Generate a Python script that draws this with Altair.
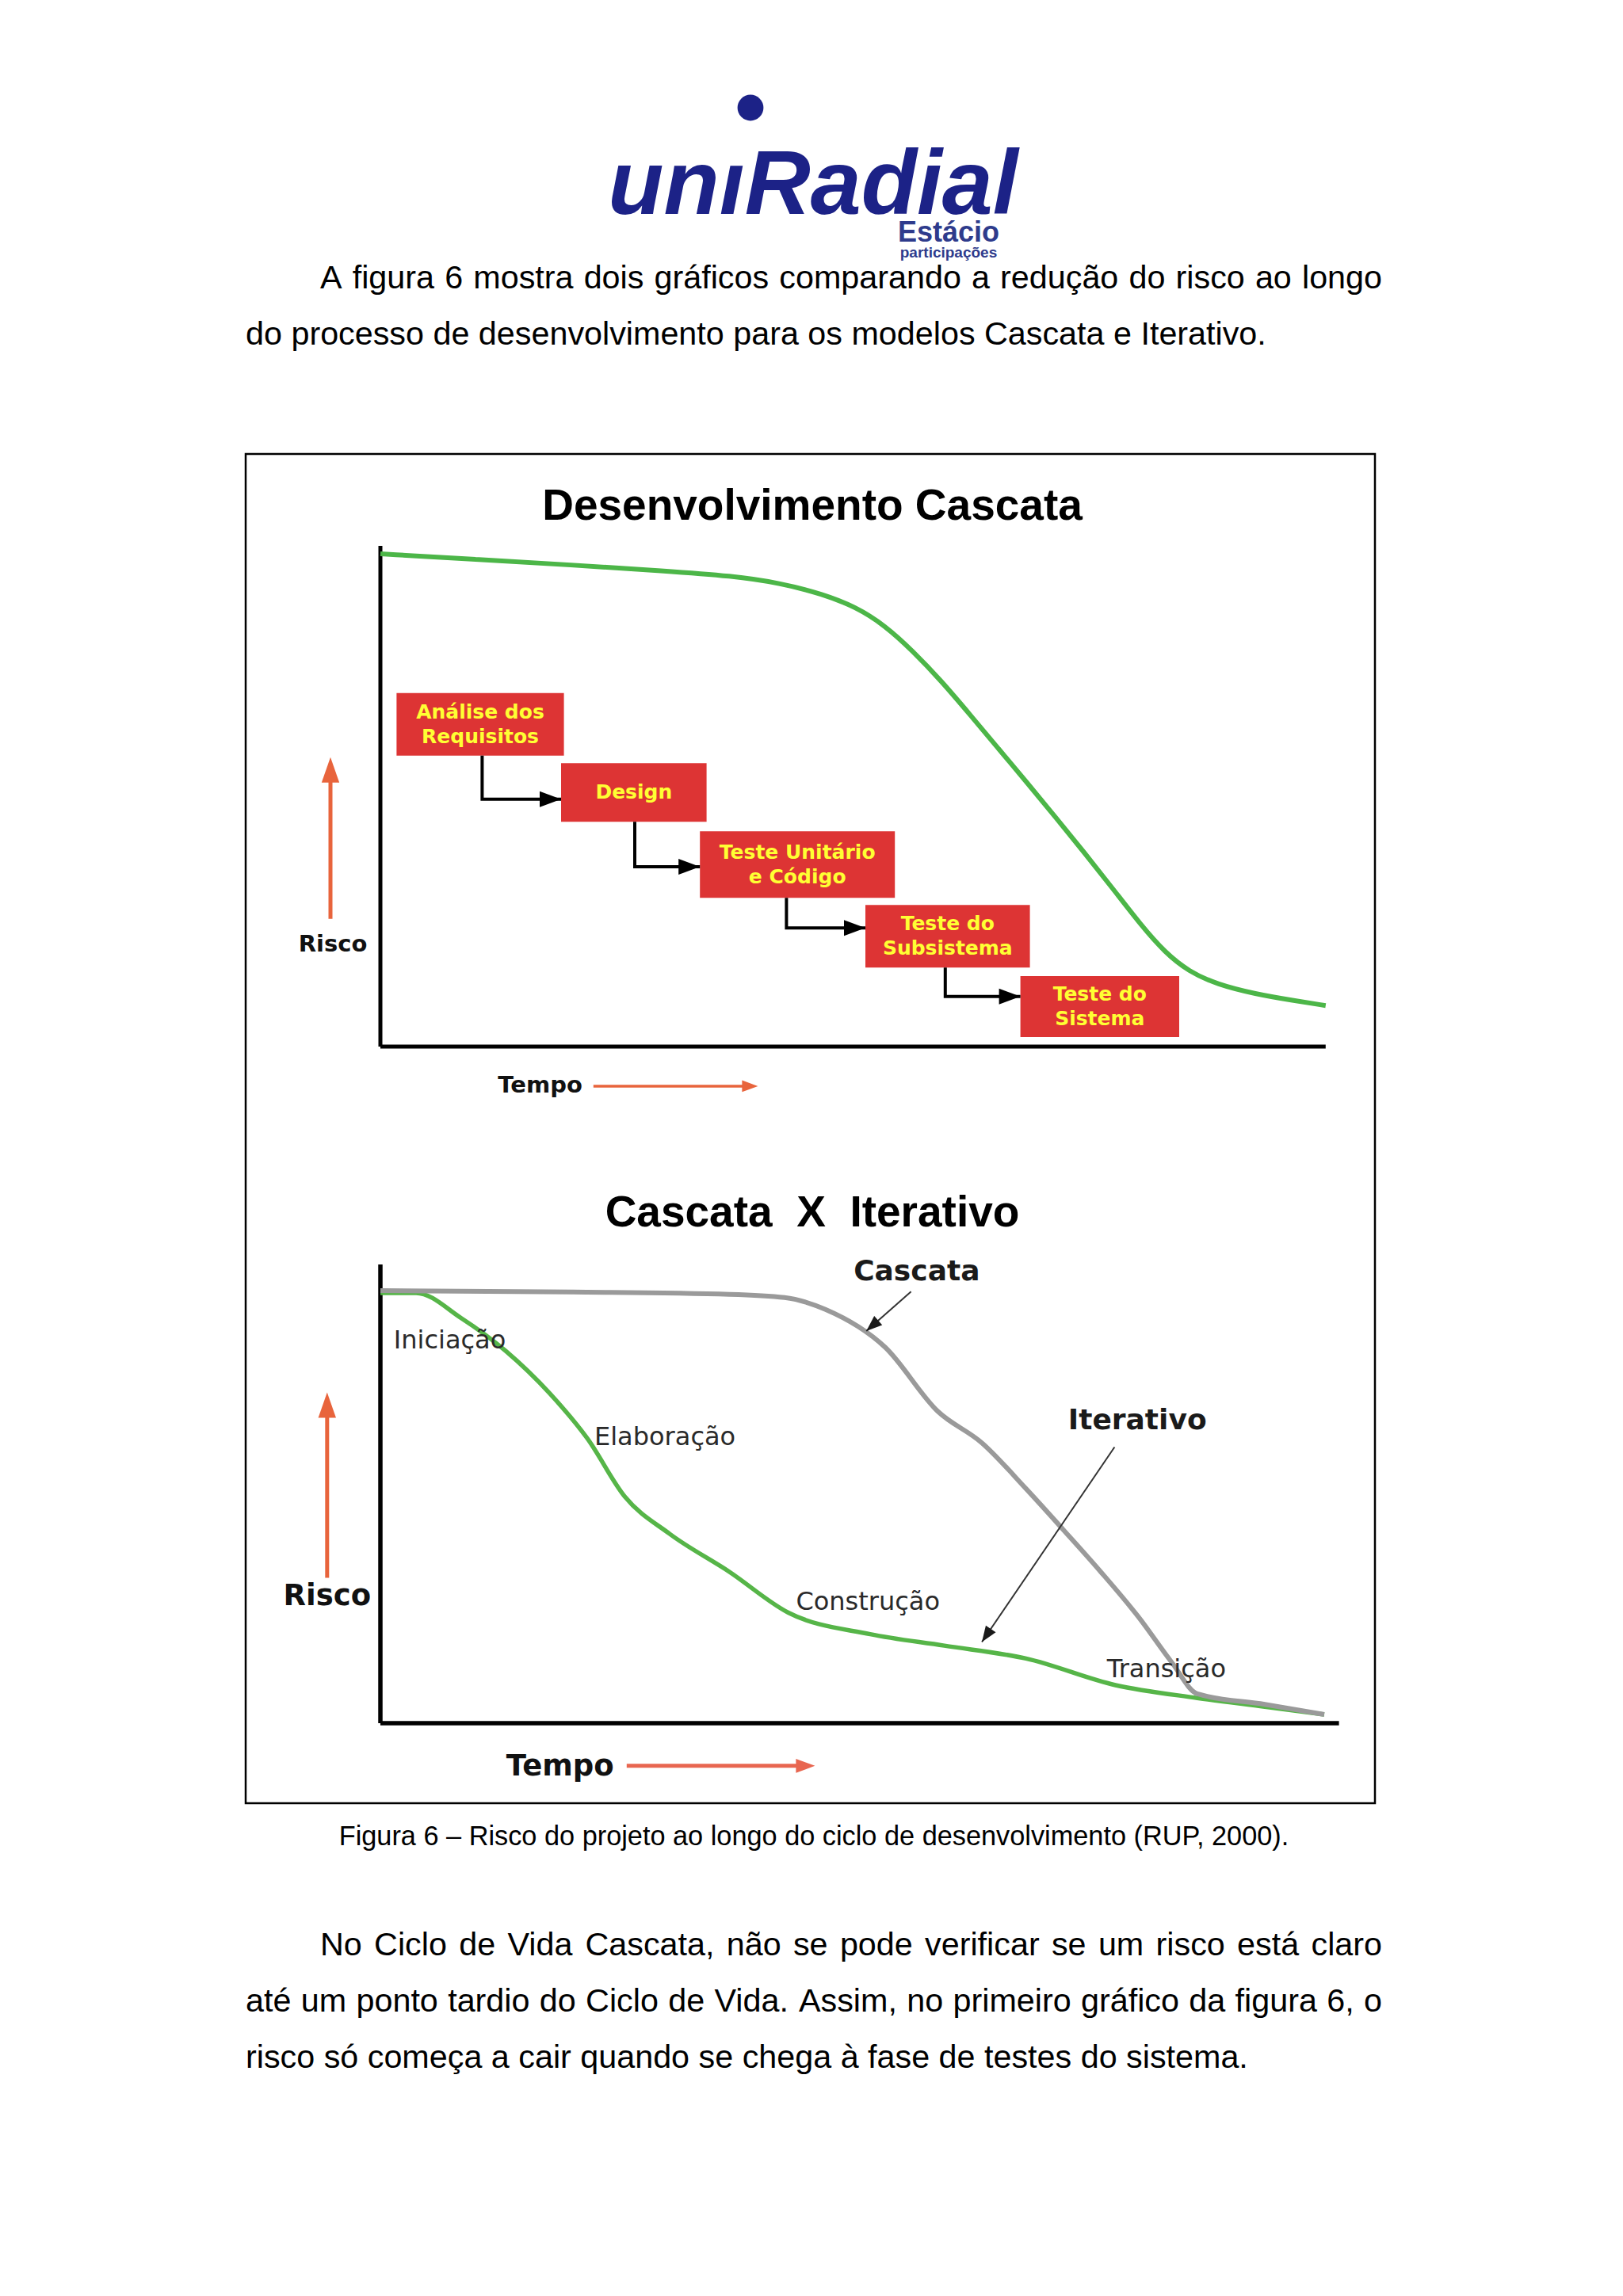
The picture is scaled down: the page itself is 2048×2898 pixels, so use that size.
import math
import altair as alt
import pandas as pd

# ---------------- data ----------------
# Chart 1 "Desenvolvimento Cascata": risco (0-100) ao longo do tempo (0-100)
c1_tempo = [0, 10, 20, 30, 37, 42, 46.5, 50, 53, 56, 59, 62, 65, 68, 71, 74, 77, 80,
            82.5, 85, 88, 92, 96, 99.4]
c1_risco = [98.4, 97.3, 96.2, 95.0, 94.0, 92.6, 90.4, 87.8, 84.2, 79.0, 73.0, 66.3, 59.5, 52.7,
            45.8, 38.8, 31.6, 24.2, 18.8, 15.0, 12.4, 10.5, 9.2, 8.2]

fases = ["Análise dos\nRequisitos", "Design", "Teste Unitário\ne Código",
         "Teste do\nSubsistema", "Teste do\nSistema"]
fase_ini = [1.7, 19.0, 33.6, 51.0, 67.3]
fase_fim = [19.3, 34.3, 54.1, 68.3, 84.0]
fase_topo = [70.6, 56.6, 43.0, 28.3, 14.1]
fase_base = [58.1, 44.9, 29.7, 15.8, 1.9]
ligacao_t = [10.7, 26.75, 42.7, 59.4]
ligacao_r = [49.4, 35.9, 23.7, 10.0]

# Chart 2 "Cascata X Iterativo"
cascata_t = [0, 20.25, 36.7, 42.5, 46.8, 53.1, 58.6, 63.25, 67.9, 71.8, 75.75, 79.7, 83.2, 85.9, 93.0, 99.25]
cascata_r = [94.3, 94.0, 93.5, 92.8, 90.2, 81.9, 68.0, 61.1, 51.1, 42.2, 33.0, 23.2, 13.3, 6.4, 4.1, 1.9]
iterativo_t = [0, 3.75, 8.5, 13.2, 17.8, 21.75, 25.7, 30.4, 36.7, 42.9, 51.5, 59.3, 67.9, 77.3, 85.9, 93.0, 99.25]
iterativo_r = [93.8, 93.8, 88.3, 81.1, 71.9, 62.1, 49.4, 41.3, 33.0, 24.1, 19.4, 16.9, 14.1, 8.3, 5.5, 3.6, 1.9]

fases2 = ["Iniciação", "Elaboração", "Construção", "Transição"]
fases2_t = [1.4, 22.5, 43.7, 76.4]
fases2_r = [83.5, 62.3, 26.5, 11.7]

chamadas = ["Cascata", "Iterativo"]
chamadas_t = [56.4, 79.6]
chamadas_r = [98.5, 65.9]
seta_t0 = [55.8, 77.2]
seta_r0 = [94.1, 60.2]
seta_t1 = [51.1, 63.25]
seta_r1 = [85.5, 17.7]

# page texts
par1 = ["A figura 6 mostra dois gráficos comparando a redução do risco ao longo",
        "do processo de desenvolvimento para os modelos Cascata e Iterativo."]
par2 = ["No Ciclo de Vida Cascata, não se pode verificar se um risco está claro",
        "até um ponto tardio do Ciclo de Vida. Assim, no primeiro gráfico da figura 6, o",
        "risco só começa a cair quando se chega à fase de testes do sistema."]
legenda = "Figura 6 – Risco do projeto ao longo do ciclo de desenvolvimento (RUP, 2000)."

# ---------------- layout (page pixels) ----------------
OFF = 8
W, H = 2048, 2898
def p(v):
    return v - OFF

T0_PX, T1_PX = 480, 1680
C1_BOT, C1_TOP = 1321, 689
C2_BOT, C2_TOP = 2175, 1596

SX = alt.Scale(domain=[0, 100], range=[p(T0_PX), p(T1_PX)], nice=False, zero=False)
SY1 = alt.Scale(domain=[0, 100], range=[p(C1_BOT), p(C1_TOP)], nice=False, zero=False)
SY2 = alt.Scale(domain=[0, 100], range=[p(C2_BOT), p(C2_TOP)], nice=False, zero=False)
PX = alt.Scale(domain=[0, W], range=[-OFF, W - OFF], nice=False, zero=False)
PY = alt.Scale(domain=[0, H], range=[-OFF, H - OFF], nice=False, zero=False)

KX = (T1_PX - T0_PX) / 100.0
KY1 = (C1_BOT - C1_TOP) / 100.0
KY2 = (C2_BOT - C2_TOP) / 100.0


def enc(sx, sy, xf="x", yf="y"):
    return dict(x=alt.X(f"{xf}:Q", scale=sx, axis=None),
                y=alt.Y(f"{yf}:Q", scale=sy, axis=None))


# Arial / Liberation Sans advance widths (1/1000 em) for justified body text
AW = {" ": 278, ",": 278, ".": 278, "-": 333, "(": 333, ")": 333, "–": 556,
      "a": 556, "b": 556, "c": 500, "d": 556, "e": 556, "f": 278, "g": 556, "h": 556,
      "i": 222, "j": 222, "k": 500, "l": 222, "m": 833, "n": 556, "o": 556, "p": 556,
      "q": 556, "r": 333, "s": 500, "t": 278, "u": 556, "v": 500, "w": 722, "x": 500,
      "y": 500, "z": 500, "A": 667, "C": 722, "I": 278, "N": 722, "V": 667,
      "á": 556, "à": 556, "ã": 556, "é": 556, "ç": 500, "ó": 556, "ú": 556, "í": 278}
BODY_SIZE = 41.3
LEFT, RIGHT, INDENT = 310, 1744, 404


def word_w(w):
    return sum(AW.get(ch, 556) for ch in w) / 1000.0 * BODY_SIZE


def lay_line(line, y, justify, indent):
    x0 = INDENT if indent else LEFT
    if not justify:
        return [{"x": x0, "y": y, "txt": line}]
    words = line.split(" ")
    ws = [word_w(w) for w in words]
    gap = (RIGHT - x0 - sum(ws)) / (len(words) - 1)
    out, x = [], x0
    for w, wd in zip(words, ws):
        out.append({"x": x, "y": y, "txt": w})
        x += wd + gap
    return out


GREEN1 = "#4cb648"
GREEN2 = "#56b548"
GRAY = "#9a9a9a"
RED = "#dd3434"
YELLOW = "#ffff33"
ORANGE = "#e8643c"
NAVY = "#1c2287"

UP_HEAD = "M0,0 L0.35,1 L-0.35,1 Z"
RIGHT_HEAD = "M0,0 L-1,-0.37 L-1,0.37 Z"
CALLOUT_HEAD = "M0,0 L0.38,1 L-0.38,1 Z"

layers = []

# figure border
border = pd.DataFrame({"x": [310], "y": [573], "x2": [1735], "y2": [2276]})
layers.append(alt.Chart(border).mark_rect(fillOpacity=0, stroke="black", strokeWidth=2.5)
              .encode(**enc(PX, PY), x2="x2:Q", y2="y2:Q"))

# logo
logo = pd.DataFrame({"x": [1026], "y": [270], "txt": ["unıRadial"]})
layers.append(alt.Chart(logo).mark_text(font="Liberation Sans", fontSize=115,
                                         fontWeight="bold", fontStyle="italic", color=NAVY,
                                         align="center", baseline="alphabetic")
              .encode(**enc(PX, PY), text="txt:N"))
dot = pd.DataFrame({"x": [947], "y": [136]})
layers.append(alt.Chart(dot).mark_point(shape="circle", filled=True, size=1075, color=NAVY, opacity=1)
              .encode(**enc(PX, PY)))
est = pd.DataFrame({"x": [1197, 1197], "y": [294, 319], "txt": ["Estácio", "participações"],
                    "s": ["a", "b"]})
layers.append(alt.Chart(est[est.s == "a"]).mark_text(font="Liberation Sans", fontSize=36, fontWeight="bold",
                                                      color="#2e3b8c", align="center", baseline="middle")
              .encode(**enc(PX, PY), text="txt:N"))
layers.append(alt.Chart(est[est.s == "b"]).mark_text(font="Liberation Sans", fontSize=19, fontWeight="bold",
                                                      color="#2e3b8c", align="center", baseline="middle")
              .encode(**enc(PX, PY), text="txt:N"))

# body text (justified like the document)
rows = []
rows += lay_line(par1[0], 352, True, True)
rows += lay_line(par1[1], 423, False, False)
rows += lay_line(par2[0], 2456, True, True)
rows += lay_line(par2[1], 2527, True, False)
rows += lay_line(par2[2], 2598, False, False)
body = pd.DataFrame(rows)
layers.append(alt.Chart(body).mark_text(font="Liberation Sans", fontSize=BODY_SIZE, color="black",
                                         align="left", baseline="middle")
              .encode(**enc(PX, PY), text="txt:N"))
cap = pd.DataFrame({"x": [1027], "y": [2319], "txt": [legenda]})
layers.append(alt.Chart(cap).mark_text(font="Liberation Sans", fontSize=34.3, color="black",
                                        align="center", baseline="middle")
              .encode(**enc(PX, PY), text="txt:N"))

# titles
titles = pd.DataFrame({"x": [1025, 1025], "y": [639, 1531],
                       "txt": ["Desenvolvimento Cascata",
                               "Cascata\u00a0\u00a0X\u00a0\u00a0Iterativo"]})
layers.append(alt.Chart(titles).mark_text(font="Liberation Sans", fontSize=55, fontWeight="bold",
                                           color="black", align="center", baseline="middle")
              .encode(**enc(PX, PY), text="txt:N"))

# ---------------- chart 1 ----------------
ax1 = pd.DataFrame({"x": [0, 0], "y": [0, 0], "x2": [0, 99.4], "y2": [100, 0]})
layers.append(alt.Chart(ax1).mark_rule(color="black", strokeWidth=5)
              .encode(**enc(SX, SY1), x2="x2:Q", y2="y2:Q"))

curve1 = pd.DataFrame({"x": c1_tempo, "y": c1_risco})
layers.append(alt.Chart(curve1).mark_line(color=GREEN1, strokeWidth=6, interpolate="basis")
              .encode(**enc(SX, SY1)))

LINE_H = 31
boxes = pd.DataFrame({"x": fase_ini, "x2": fase_fim, "y": fase_topo, "y2": fase_base, "txt": fases})
boxes["xc"] = (boxes.x + boxes.x2) / 2
nl = boxes.txt.str.count("\n")
boxes["yc"] = (boxes.y + boxes.y2) / 2 + nl * (LINE_H / 2.0) / KY1
layers.append(alt.Chart(boxes).mark_rect(color=RED)
              .encode(**enc(SX, SY1), x2="x2:Q", y2="y2:Q"))
layers.append(alt.Chart(boxes).mark_text(font="DejaVu Sans", fontSize=25, fontWeight="bold", color=YELLOW,
                                          align="center", baseline="middle", lineBreak="\n", lineHeight=LINE_H)
              .encode(**enc(SX, SY1, "xc", "yc"), text="txt:N"))

rows, heads = [], []
for i in range(len(ligacao_t)):
    pts = [(ligacao_t[i], fase_base[i]), (ligacao_t[i], ligacao_r[i]), (fase_ini[i + 1], ligacao_r[i])]
    for k, (a, b) in enumerate(pts):
        rows.append({"x": a, "y": b, "id": i, "k": k})
    heads.append({"x": fase_ini[i + 1], "y": ligacao_r[i]})
conn = pd.DataFrame(rows)
layers.append(alt.Chart(conn).mark_line(color="black", strokeWidth=4, strokeJoin="miter")
              .encode(**enc(SX, SY1), detail="id:N", order="k:Q"))
layers.append(alt.Chart(pd.DataFrame(heads)).mark_point(shape=RIGHT_HEAD, filled=True, size=2916,
                                                         color="black", opacity=1, strokeWidth=0)
              .encode(**enc(SX, SY1)))

# risco / tempo arrows chart 1
r1 = pd.DataFrame({"x": [-5.25], "y": [25.5], "y2": [55.0]})
layers.append(alt.Chart(r1).mark_rule(color=ORANGE, strokeWidth=5).encode(**enc(SX, SY1), y2="y2:Q"))
layers.append(alt.Chart(pd.DataFrame({"x": [-5.25], "y": [57.8]})).mark_point(
    shape=UP_HEAD, filled=True, size=4096, color=ORANGE, opacity=1, strokeWidth=0).encode(**enc(SX, SY1)))
t1 = pd.DataFrame({"x": [22.4], "x2": [38.5], "y": [-7.9]})
layers.append(alt.Chart(t1).mark_rule(color=ORANGE, strokeWidth=3.5).encode(**enc(SX, SY1), x2="x2:Q"))
layers.append(alt.Chart(pd.DataFrame({"x": [39.7], "y": [-7.9]})).mark_point(
    shape=RIGHT_HEAD, filled=True, size=1600, color=ORANGE, opacity=1, strokeWidth=0).encode(**enc(SX, SY1)))
lab1 = pd.DataFrame({"x": [-5.0, 16.8], "y": [20.4, -7.8], "txt": ["Risco", "Tempo"]})
layers.append(alt.Chart(lab1).mark_text(font="DejaVu Sans", fontSize=29, fontWeight="bold", color="#111111",
                                         align="center", baseline="middle")
              .encode(**enc(SX, SY1), text="txt:N"))

# ---------------- chart 2 ----------------
ax2 = pd.DataFrame({"x": [0, 0], "y": [0, 0], "x2": [0, 100.8], "y2": [100, 0]})
layers.append(alt.Chart(ax2).mark_rule(color="black", strokeWidth=5.5)
              .encode(**enc(SX, SY2), x2="x2:Q", y2="y2:Q"))

it = pd.DataFrame({"x": iterativo_t, "y": iterativo_r})
layers.append(alt.Chart(it).mark_line(color=GREEN2, strokeWidth=5.5, interpolate="monotone")
              .encode(**enc(SX, SY2)))
ca = pd.DataFrame({"x": cascata_t, "y": cascata_r})
layers.append(alt.Chart(ca).mark_line(color=GRAY, strokeWidth=6, interpolate="monotone")
              .encode(**enc(SX, SY2)))

lab2 = pd.DataFrame({"x": fases2_t, "y": fases2_r, "txt": fases2})
layers.append(alt.Chart(lab2).mark_text(font="DejaVu Sans", fontSize=32, color="#2a2a2a",
                                         align="left", baseline="middle")
              .encode(**enc(SX, SY2), text="txt:N"))

ch = pd.DataFrame({"x": chamadas_t, "y": chamadas_r, "txt": chamadas})
layers.append(alt.Chart(ch).mark_text(font="DejaVu Sans", fontSize=36, fontWeight="bold", color="#1a1a1a",
                                       align="center", baseline="middle")
              .encode(**enc(SX, SY2), text="txt:N"))

seta = pd.DataFrame({"x": seta_t0, "y": seta_r0, "x2": seta_t1, "y2": seta_r1})
layers.append(alt.Chart(seta).mark_rule(color="#333333", strokeWidth=2)
              .encode(**enc(SX, SY2), x2="x2:Q", y2="y2:Q"))
ang = []
for a0, b0, a1, b1 in zip(seta_t0, seta_r0, seta_t1, seta_r1):
    dx = (a1 - a0) * KX
    dy = -(b1 - b0) * KY2
    ang.append((math.degrees(math.atan2(dx, -dy)) + 360) % 360)
seta_pts = pd.DataFrame({"x": seta_t1, "y": seta_r1, "a": ang})
layers.append(alt.Chart(seta_pts).mark_point(shape=CALLOUT_HEAD, filled=True, size=1600,
                                              color="#1a1a1a", opacity=1, strokeWidth=0)
              .encode(**enc(SX, SY2), angle=alt.Angle("a:Q", scale=None)))

r2 = pd.DataFrame({"x": [-5.6], "y": [31.7], "y2": [68.0]})
layers.append(alt.Chart(r2).mark_rule(color=ORANGE, strokeWidth=5).encode(**enc(SX, SY2), y2="y2:Q"))
layers.append(alt.Chart(pd.DataFrame({"x": [-5.6], "y": [72.1]})).mark_point(
    shape=UP_HEAD, filled=True, size=4096, color=ORANGE, opacity=1, strokeWidth=0).encode(**enc(SX, SY2)))
t2 = pd.DataFrame({"x": [25.9], "x2": [44.0], "y": [-9.3]})
layers.append(alt.Chart(t2).mark_rule(color="#e86650", strokeWidth=5).encode(**enc(SX, SY2), x2="x2:Q"))
layers.append(alt.Chart(pd.DataFrame({"x": [45.7], "y": [-9.3]})).mark_point(
    shape=RIGHT_HEAD, filled=True, size=2304, color="#e86650", opacity=1, strokeWidth=0).encode(**enc(SX, SY2)))
lab3 = pd.DataFrame({"x": [-5.6, 18.9], "y": [27.7, -9.5], "txt": ["Risco", "Tempo"]})
layers.append(alt.Chart(lab3).mark_text(font="DejaVu Sans", fontSize=37, fontWeight="bold", color="#111111",
                                         align="center", baseline="middle")
              .encode(**enc(SX, SY2), text="txt:N"))

chart = (alt.layer(*layers)
         .resolve_scale(x="independent", y="independent")
         .properties(width=W - 2 * OFF, height=H - 2 * OFF, padding=0,
                     autosize=alt.AutoSizeParams(type="none"), background="white")
         .configure_view(stroke=None))

chart.save("out.html", embed_options={"renderer": "svg", "actions": False})
